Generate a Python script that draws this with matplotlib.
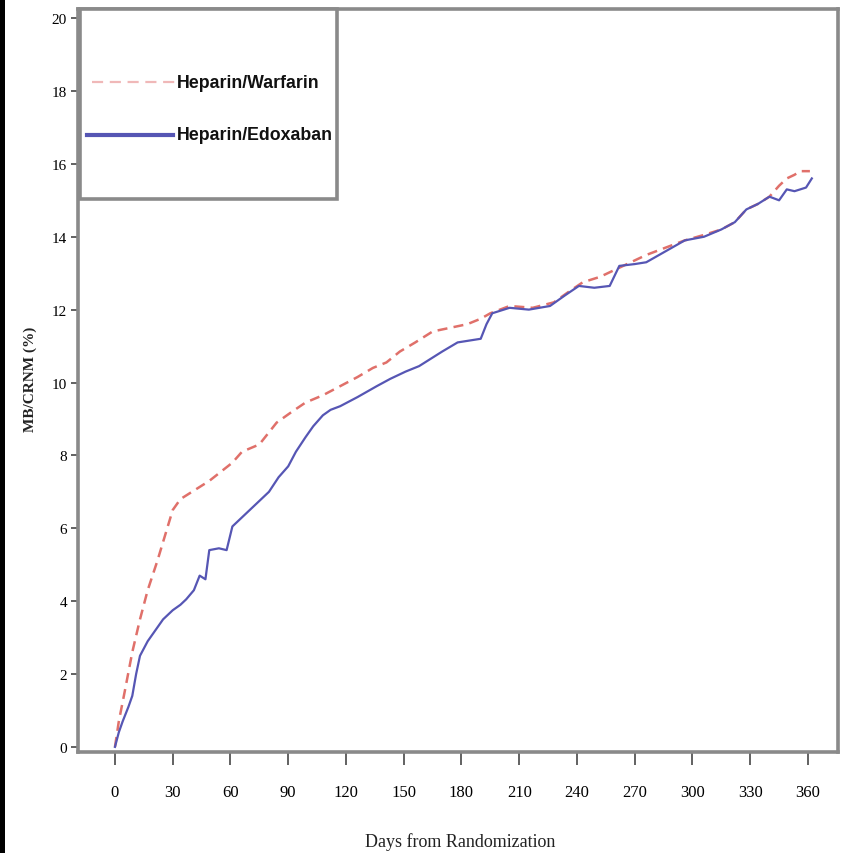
import matplotlib
matplotlib.use("Agg")
import matplotlib.pyplot as plt
from matplotlib.patches import Rectangle
from matplotlib.lines import Line2D

# ---- data ----
warf_days = [0, 2, 5, 9, 13, 17, 22, 26, 30, 34, 37, 43, 49, 55, 61, 66, 75, 84, 92, 99,
             108, 117, 126, 134, 141, 148, 156, 165, 174, 183, 190, 195, 205, 217, 228,
             236, 243, 252, 260, 268, 276, 286, 296, 306, 315, 322, 328, 334, 340, 345,
             349, 353, 356, 361]
warf_vals = [0.0, 0.7, 1.5, 2.6, 3.5, 4.3, 5.1, 5.8, 6.5, 6.8, 6.9, 7.1, 7.3, 7.55, 7.8,
             8.1, 8.3, 8.9, 9.2, 9.45, 9.65, 9.9, 10.15, 10.4, 10.55, 10.85, 11.1, 11.4,
             11.5, 11.6, 11.75, 11.9, 12.1, 12.05, 12.2, 12.5, 12.75, 12.9, 13.1, 13.3,
             13.5, 13.7, 13.9, 14.05, 14.2, 14.4, 14.75, 14.9, 15.1, 15.4, 15.6, 15.7,
             15.8, 15.8]

edox_days = [0, 2, 4, 7, 9, 11, 13, 17, 21, 25, 30, 34, 37, 41, 44, 47, 49, 54, 58, 61,
             66, 70, 74, 80, 85, 90, 94, 99, 103, 108, 112, 117, 126, 136, 143, 151, 158,
             164, 170, 178, 184, 190, 193, 196, 205, 215, 226, 234, 241, 249, 257, 262,
             270, 276, 286, 296, 306, 315, 322, 328, 334, 340, 345, 349, 353, 359, 362]
edox_vals = [0.0, 0.4, 0.7, 1.1, 1.4, 2.0, 2.5, 2.9, 3.2, 3.5, 3.75, 3.9, 4.05, 4.3, 4.7,
             4.6, 5.4, 5.45, 5.4, 6.05, 6.3, 6.5, 6.7, 7.0, 7.4, 7.7, 8.1, 8.5, 8.8, 9.1,
             9.25, 9.35, 9.6, 9.9, 10.1, 10.3, 10.45, 10.65, 10.85, 11.1, 11.15, 11.2,
             11.6, 11.9, 12.05, 12.0, 12.1, 12.4, 12.65, 12.6, 12.65, 13.2, 13.25, 13.3,
             13.6, 13.9, 14.0, 14.2, 14.4, 14.75, 14.9, 15.1, 15.0, 15.3, 15.25, 15.35, 15.6]

series_labels = ["Heparin/Warfarin", "Heparin/Edoxaban"]
x_ticks = [0, 30, 60, 90, 120, 150, 180, 210, 240, 270, 300, 330, 360]
y_ticks = [0, 2, 4, 6, 8, 10, 12, 14, 16, 18, 20]
x_label = "Days from Randomization"
y_label = "MB/CRNM (%)"

RED = "#e0706a"
BLUE = "#5656b4"
FRAME = "#8a8a8a"

fig = plt.figure(figsize=(8.48, 8.54), dpi=100)
ax = fig.add_axes([78/848, 1-753/854, (838-78)/848, (753-10)/854])

ax.plot(warf_days, warf_vals, color=RED, lw=1.8, ls=(0, (4, 2.5)))
ax.plot(edox_days, edox_vals, color=BLUE, lw=1.6)

ax.set_xlim(-19.2, 375.6)
ax.set_ylim(-0.14, 20.25)
ax.set_xticks(x_ticks)
ax.set_yticks(y_ticks)
serif = ["Liberation Serif", "DejaVu Serif"]
ax.set_xticklabels([str(t) for t in x_ticks], family=serif, fontsize=12)
ax.set_yticklabels([str(t) for t in y_ticks], family=serif, fontsize=11)
ax.tick_params(axis="x", length=9, width=1.3, color="#555555", pad=14)
ax.tick_params(axis="y", length=5, width=1.3, color="#555555", pad=3)
for s in ax.spines.values():
    s.set_color(FRAME)
    s.set_linewidth(2.6)

fig.text(460/848, 1-842/854, x_label, family=serif, fontsize=13, ha="center", va="center",
         color="#222222")
fig.text(30/848, 1-379/854, y_label, family=serif, fontsize=11, ha="center", va="center",
         rotation=90, color="#222222", fontweight="bold")

# legend (manual box)
lx0, lx1, ly0, ly1 = 80, 337, 10, 200
def fx(px):
    return px / 848
def fy(py):
    return 1 - py / 854
fig.add_artist(Rectangle((fx(lx0), fy(ly1)), fx(lx1) - fx(lx0), fy(ly0) - fy(ly1),
                         transform=fig.transFigure, facecolor="white", edgecolor=FRAME,
                         lw=2.6, zorder=5))
fig.add_artist(Line2D([fx(92), fx(175)], [fy(83), fy(83)], transform=fig.transFigure,
                      color="#f0b8b8", lw=1.6, ls=(0, (5, 3)), zorder=6))
fig.add_artist(Line2D([fx(87), fx(173)], [fy(136), fy(136)], transform=fig.transFigure,
                      color=BLUE, lw=3.0, zorder=6))
lfont = ["Liberation Sans", "DejaVu Sans"]
fig.text(fx(177), fy(83), series_labels[0], family=lfont, fontsize=12.8, fontweight="bold",
         va="center", ha="left", zorder=7, color="#111111")
fig.text(fx(177), fy(136), series_labels[1], family=lfont, fontsize=12.8, fontweight="bold",
         va="center", ha="left", zorder=7, color="#111111")

# black border at left edge of the image
fig.add_artist(Rectangle((0, 0), 5/848, 1, transform=fig.transFigure, facecolor="black",
                         edgecolor="none"))

fig.savefig("out.png", dpi=100)
